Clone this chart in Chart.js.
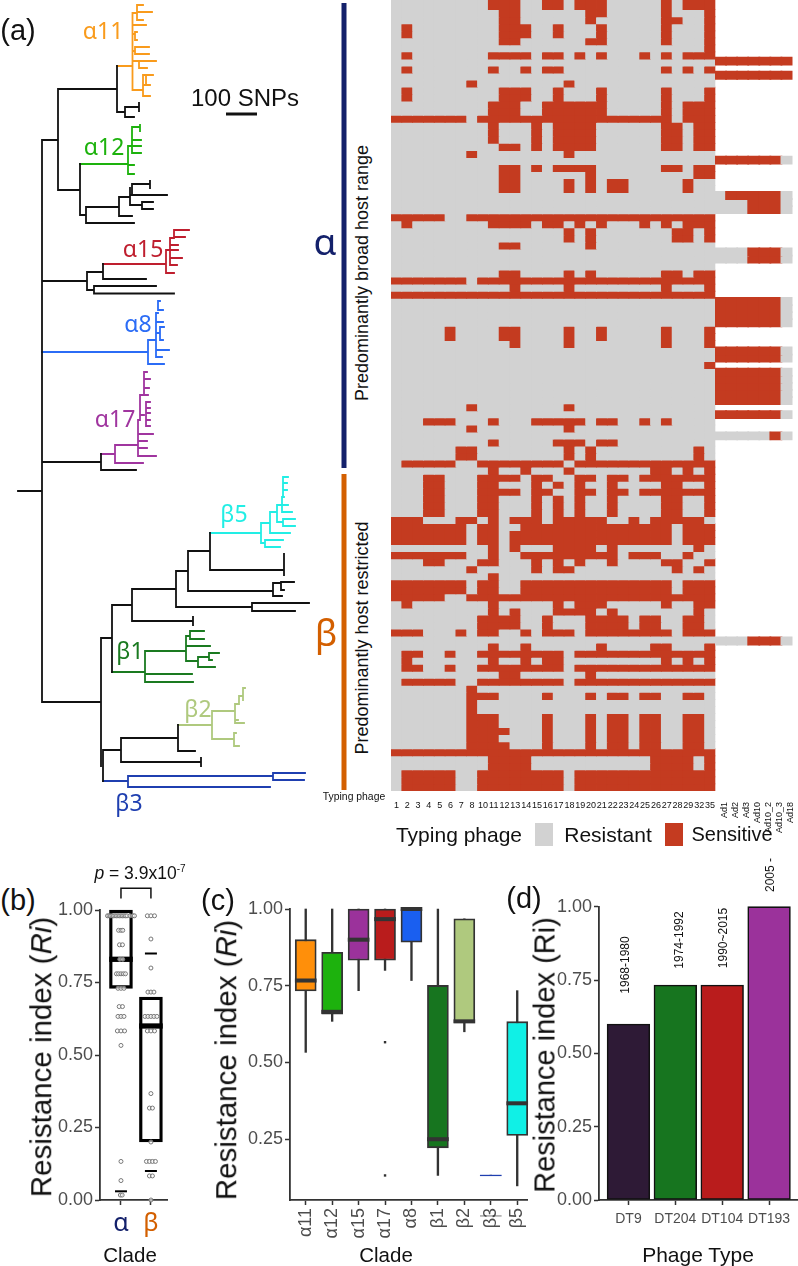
<!DOCTYPE html>
<html>
<head>
<meta charset="utf-8">
<title>Phage typing resistance</title>
<script src="https://cdn.jsdelivr.net/npm/chart.js@4/dist/chart.umd.js"></script>
<style>
html, body { margin: 0; padding: 0; background: #fff; }
#page { position: relative; width: 798px; height: 1266px; overflow: hidden; font-family: "Liberation Sans", Arial, sans-serif; color: #111; }
canvas { position: absolute; }
.t { position: absolute; transform: translate(-50%, -50%); white-space: nowrap; line-height: 1; }
.up { transform: translate(-50%, -50%) rotate(-90deg); }
.myr { font-family: "Noto Sans", sans-serif; }
.swatch { position: absolute; width: 18px; height: 23px; }
</style>
</head>
<body>
<div id="page">
  <canvas id="tree" style="left:0;top:0"></canvas>
  <canvas id="heat" style="left:391px;top:0"></canvas>
  <canvas id="adHeat" style="left:715px;top:1px"></canvas>
  <canvas id="panelB" style="left:40px;top:860px"></canvas>
  <canvas id="panelC" style="left:230px;top:860px"></canvas>
  <canvas id="panelD" style="left:540px;top:860px"></canvas>

  <div class="t" style="left:18px;top:30px;font-size:29px">(a)</div>
  <div class="t" style="left:18px;top:900px;font-size:29px">(b)</div>
  <div class="t" style="left:218px;top:900px;font-size:29px">(c)</div>
  <div class="t" style="left:524px;top:898px;font-size:29px">(d)</div>

  <div class="t" style="left:245px;top:98px;font-size:24px">100 SNPs</div>

  <div class="t myr" style="left:103px;top:30px;font-size:23px;color:#f99b1c">α11</div>
  <div class="t myr" style="left:104px;top:146px;font-size:23px;color:#1db20d">α12</div>
  <div class="t myr" style="left:143px;top:248px;font-size:23px;color:#bf1e2e">α15</div>
  <div class="t myr" style="left:138px;top:323px;font-size:23px;color:#2b6cf6">α8</div>
  <div class="t myr" style="left:115px;top:418px;font-size:23px;color:#a0359f">α17</div>
  <div class="t myr" style="left:234px;top:513px;font-size:23px;color:#22eee5">β5</div>
  <div class="t myr" style="left:130px;top:650px;font-size:23px;color:#1a7a20">β1</div>
  <div class="t myr" style="left:198px;top:708px;font-size:23px;color:#afc97e">β2</div>
  <div class="t myr" style="left:129px;top:802px;font-size:23px;color:#1f3fb0">β3</div>
  <div class="t myr" style="left:325px;top:240px;font-size:37px;color:#14216b">α</div>
  <div class="t myr" style="left:326px;top:631px;font-size:37px;color:#d35f00">β</div>

  <div class="t up" style="left:362px;top:273px;font-size:18px">Predominantly broad host range</div>
  <div class="t up" style="left:362px;top:638px;font-size:18px">Predominantly host restricted</div>

  <div class="t" style="left:354px;top:797px;font-size:10.4px">Typing phage</div>

  <div class="t" style="left:459px;top:834px;font-size:21px">Typing phage</div>
  <div class="swatch" style="left:535px;top:823px;background:#d2d2d2"></div>
  <div class="t" style="left:608px;top:834px;font-size:21px">Resistant</div>
  <div class="swatch" style="left:665px;top:823px;background:#c43b20"></div>
  <div class="t" style="left:732px;top:834px;font-size:20px">Sensitive</div>

  <div class="t" style="left:140px;top:874px;font-size:17.5px"><i>p</i> = 3.9x10<sup style="font-size:10px;line-height:0">-7</sup></div>

  <div class="t up" style="left:41px;top:1057px;font-size:29.5px">Resistance index (<i>Ri</i>)</div>
  <div class="t up" style="left:226px;top:1060px;font-size:29.5px">Resistance index (<i>Ri</i>)</div>
  <div class="t up" style="left:545px;top:1055px;font-size:29px">Resistance index (Ri)</div>

  <div class="t" style="left:130px;top:1255px;font-size:20.5px">Clade</div>
  <div class="t" style="left:386px;top:1255px;font-size:20.5px">Clade</div>
  <div class="t" style="left:698px;top:1254px;font-size:21px">Phage Type</div>

  <div class="t up" style="left:625px;top:965px;font-size:12px">1968-1980</div>
  <div class="t up" style="left:679px;top:940px;font-size:12px">1974-1992</div>
  <div class="t up" style="left:723px;top:938px;font-size:12px">1990~2015</div>
  <div class="t up" style="left:770px;top:875px;font-size:12px">2005 -</div>
</div>

<script>
// ---- heat map data ----
var phageColumns = ['1','2','3','4','5','6','7','8','10','11','12','13','14','15','16','17','18','19','20','21','22','23','24','25','26','27','28','29','32','35'];
var adColumns = ['Ad1','Ad2','Ad3','Ad10','Ad10_2','Ad10_3','Ad18'];

// one string per strain, top to bottom: which column positions are sensitive
var sensitiveRuns = [
  '10-12 15-16 18-20 26 28-30', '11-12 19-20 26 30', '11-12 19 26-27 30', '2 11-13 16 20 26 30',
  '2 11-13 16 20 26 30', '11-12 19-20 26 30', '30', '2 10-13 15-16 18 20 24 26 28-30',
  '', '2 10 13 15-16 26 28 30', '', '8 17',
  '2 11-13 16 20 26 30', '2 11-13 16 20 26 30', '10-12 15-20 26 28-30', '10-12 15-20 26 28-30',
  '1-7 9-26 28-30', '10 14 16-19 26-27 29-30', '10 14 16-19 26-27 29-30', '10 14 16-19 26-27 29-30',
  '11-12 14 16-19 26-27 29-30', '8 17', '', '11-12 14 16-19 26-27 29-30',
  '11-12 19 29-30', '11-12 17 19 21-22 28', '11-12 17 19 21-22 28', '',
  '', '', '1-5 8-30', '2 10-13 15-16 18 20 24 26 28-30',
  '17 19 27-28 30', '17 19 27-28 30', '11-12 19', '',
  '', '', '11-12 17 19 26-27 29-30', '1-7 9-30',
  '12 17 26 30', '1-30', '', '',
  '', '', '6 11-12 17 20 26 30', '6 11-12 17 20 26 30',
  '12 17 26 30', '', '', '30',
  '', '', '', '',
  '', '8 17', '', '4-6 10 14-18 20-21 24 26',
  '8 17', '', '10 16-18 20-21', '7-8 17 19 29',
  '7-8 17 19 29', '2-6 9-16 18-30', '10 13 17 25-26 28 30', '4-5 9-12 14-15 18-19 21-22 24-30',
  '4-5 9-10 14 16 18 21 26-27 30', '4-5 9-12 14-15 18-19 21-22 24-30', '4-5 9-10 14 16 18 21 26-27 30', '4-5 9-10 14 16 18 21 26-27 30',
  '4-5 9-10 14 16 18 21 26-27 30', '1-3 7-8 10 12-14 16-20 23 25-29', '1-7 9-10 13-26 28-30', '1-7 9-10 12-26 28-30',
  '1-7 9-10 12-26 28-30', '10 12 16-19 21 29', '1-7 10 13-21 23-25 28', '4-5 9-10 14 16 18 21 26-27 30',
  '8 14 16-17 27 29', '10', '1-7 9-10 13-26 28-30', '1-7 9-10 13-26 28-30',
  '1-5 8-30', '2 10 16 18-20 26 29-30', '10 12 16-19 21 29', '9-12 15 19-22 24-25 28-29',
  '9-12 15 19-22 24-25 28-29', '1-3 7 9-10 13 15-17 19-26 28-30', '', '10 13 20 25-26 30',
  '2-3 6 9-16 18-30', '2 10 13 15-16 26 28 30', '2-3 6 9-16 18-30', '11-12 19',
  '2-6 9-16 18-30', '8', '8-10 15 19 21-22 24-25 28-29', '8',
  '8', '8-10 15 19 21-22 24-25 28-29', '8-10 15 19 21-22 24-25 28-29', '8-11 15 19 21-22 24-25 28-29',
  '8-10 15 19 21-22 24-25 28-29', '8-11 15 19 21-22 24-25 28-29', '1-30', '10-13 25-28 30',
  '10-13 25-28 30', '2-6 9-16 18-30', '2-6 9-16 18-30', '2-6 9-16 18-30'
];

// strains that were also typed with the Ad phages
var adRows = [8, 10, 22, 27, 28, 29, 35, 36, 42, 43, 44, 45, 49, 50, 52, 53, 54, 55, 56, 58, 61, 90];
var adSensitive = ['1-7', '1-7', '1-6', '2-6', '4-6', '4-6', '4-6', '4-6', '1-6', '1-6', '1-6', '1-6', '1-6', '1-6', '1-6', '1-6', '1-6', '1-6', '1-6', '1-6', '6', '4-6'];

// ---- tree data: [bar position, [tip row, branch end], ...] ----
var treeBlack = [
  [18, [491, 42]],
  [42, [140, 58], [281, 87], [462, 101], [702, 101]],
  [58, [89, 117], [190, 80]],
  [117, [66, 117], [112, 125]],
  [125, [107, 139], [117, 134]],
  [139, [103, 139], [111, 139]],
  [80, [164, 80], [215, 86]],
  [86, [207, 119], [223, 134]],
  [119, [197, 130], [216, 132]],
  [130, [188, 130], [195, 167], [205, 142]],
  [132, [184, 150], [195, 132]],
  [150, [181, 150], [188, 150]],
  [142, [202, 153], [209, 153]],
  [87, [272, 103], [290, 94]],
  [103, [264, 103], [279, 146]],
  [94, [286, 156], [293.5, 174]],
  [101, [454, 101], [470, 136]],
  [101, [638, 112], [702, 101], [766, 101]],
  [112, [605, 132], [672, 112]],
  [132, [589, 176], [621, 193]],
  [193, [617, 193], [625, 193]],
  [176, [571, 188], [607, 252]],
  [252, [603, 309], [611, 295]],
  [188, [551, 210], [591, 273]],
  [273, [583, 281], [596, 282]],
  [281, [582, 294], [590, 284]],
  [210, [533, 210], [570, 284]],
  [284, [554, 284], [575, 284]],
  [103, [750, 121], [781, 103]],
  [121, [738, 178], [762, 201]],
  [201, [758, 201], [766, 201]],
  [178, [725, 178], [751, 195]]
];
var treeA11 = [
  [117, [66, 132.5]],
  [132.5, [13, 137], [25, 146], [34, 135], [51, 135], [61, 139], [90, 143]],
  [137, [5, 143], [12, 152], [20, 143]],
  [135, [32, 137], [40, 137]],
  [135, [47, 149], [54, 149]],
  [139, [61, 156], [68, 147]],
  [143, [75, 146], [85, 150], [96, 150]],
  [146, [75, 153], [85, 146]]
];
var treeA12 = [
  [80, [164, 128]],
  [128, [146, 132], [165, 134], [174, 134]],
  [132, [127, 140], [140, 141], [146, 141], [153, 141]],
  [140, [125, 140], [131, 140]]
];
var treeA15 = [
  [103, [264, 166]],
  [166, [250, 170], [273, 174]],
  [170, [238, 174], [245, 178], [250, 178], [258, 182], [265, 177]],
  [174, [230, 189], [237, 185]]
];
var treeA8 = [
  [42, [352, 148]],
  [148, [340, 156], [364, 164]],
  [156, [313, 158], [322, 163], [333, 160], [350, 169], [357, 162]],
  [158, [301, 160], [310, 163]],
  [160, [327, 164], [340, 163]]
];
var treeA17 = [
  [101, [454, 115]],
  [115, [445, 138], [463, 143]],
  [138, [420, 140], [434, 153], [441, 147], [448, 147], [456, 156]],
  [140, [395, 144], [415, 144], [420, 140]],
  [144, [372, 147], [379, 150], [388, 149], [395, 148]],
  [146, [402, 150], [408, 150], [413, 150], [420, 150], [426, 150]]
];
var treeB5 = [
  [210, [533, 261]],
  [261, [523, 270], [543, 265]],
  [265, [540, 283], [547, 280]],
  [270, [512, 277], [533, 290]],
  [277, [505, 282], [522, 283]],
  [282, [497, 284], [505, 288], [512, 292]],
  [283, [519, 295], [526, 295]],
  [283, [477, 288], [483, 287], [490, 287], [497, 284]]
];
var treeB1 = [
  [112, [672, 145]],
  [145, [651, 186], [674, 192], [682, 193]],
  [186, [636, 190], [646, 210], [661, 198]],
  [190, [631, 204], [639, 204]],
  [198, [657, 209], [667, 215]],
  [209, [653, 219], [660, 212]]
];
var treeB2 = [
  [178, [725, 212]],
  [212, [711, 235], [739, 234]],
  [235, [704, 239], [720, 238], [723, 244]],
  [239, [696, 243], [704, 239]],
  [243, [688, 245], [700, 243]],
  [234, [733, 236], [746, 239]]
];
var treeB3 = [
  [103, [781, 128]],
  [128, [776, 273], [787, 270]],
  [273, [773, 305], [780, 304]]
];

// ---- panel b ----
var alphaRi = [.98,.98,.98,.98,.98,.98,.98,.98,.98,.98,.98,.98,.98,.98,.98,.98,.98,.93,.93,.93,.88,.88,.83,.83,.78,.78,.78,.78,.78,.73,.73,.73,.667,.667,.633,.633,.633,.583,.583,.583,.533,.133,.067,.017,.017];
var alphaJitter = [-.45,-.4,-.35,-.3,-.25,-.2,-.15,-.1,-.05,0,.05,.1,.15,.2,.3,.4,.45,-.08,0,.06,-.05,.05,-.04,.06,-.15,-.08,0,.08,.15,-.1,0,.1,-.06,.05,-.1,0,.1,-.12,0,.12,0,0,0,-.02,.04];
var betaRi = [.98,.98,.98,.9,.8,.717,.717,.717,.633,.633,.633,.633,.633,.583,.583,.583,.367,.317,.317,.2,.133,.133,.133,.133,.083,.083,0];
var betaJitter = [-.12,0,.12,0,0,-.1,0,.1,-.2,-.1,0,.1,.2,-.12,0,.12,0,-.05,.05,0,-.15,-.05,.05,.15,-.05,.05,0];
var cladeMedianB = [.83, .60];
var boxLowB = [.73, .20];
var boxHighB = [1, .70];
var dashX = [1, 2, 2];
var dashRi = [.03, .85, .10];

// ---- panel c ----
var cladeNames = ['α11','α12','α15','α17','α8','β1','β2','β3','β5'];
var cladeColors = ['#ff8f0a','#1db20d','#9b329b','#b91c1c','#1a5ff0','#17751f','#afc97e','#1f3fb0','#10f0e6'];
var whiskerLow = [.533,.634,.734,.80,.767,.132,.60,.132,.098];
var boxLow = [.733,.657,.833,.833,.892,.222,.63,.131,.262];
var cladeMedian = [.767,.665,.90,.967,1,.25,.634,.132,.367];
var boxHigh = [.90,.859,1,1,1,.751,.968,.133,.633];
var whiskerHigh = [1,1,1,1,1,1,.968,.133,.734];
var outlierClade = [4, 4];
var outlierRi = [.566, .132];

// ---- panel d ----
var phageTypes = ['DT9','DT204','DT104','DT193'];
var phageRi = [.60,.733,.733,1];
var phageColors = ['#2e1a36','#17751f','#b91c1c','#9b329b'];

var red = '#c43b20', grey = '#d2d2d2', dark = '#333333', tickGrey = '#4d4d4d';

function isSensitive(runs, pos) {
  return runs.split(' ').some(function(r) {
    if (!r) return false;
    var p = r.split('-');
    return pos >= +p[0] && pos <= +(p[1] || p[0]);
  });
}

function sizeCanvas(id, w, h) {
  var c = document.getElementById(id);
  c.style.width = w + 'px';
  c.style.height = h + 'px';
  c.width = w;
  c.height = h;
  return c;
}

var baseOptions = {
  responsive: false,
  animation: false,
  events: [],
  plugins: { legend: { display: false }, tooltip: { enabled: false } }
};

function opts(extra, padding) {
  return Object.assign({ layout: { autoPadding: false, padding: padding || 0 } }, baseOptions, extra);
}

// tree
function treeDataset(brackets, color, width) {
  var pts = [];
  brackets.forEach(function(b) {
    var x0 = b[0];
    var rows = b.slice(1).map(function(c) { return c[0]; });
    pts.push({x: x0, y: Math.min.apply(null, rows)}, {x: x0, y: Math.max.apply(null, rows)}, {x: x0, y: null});
    b.slice(1).forEach(function(c) {
      pts.push({x: x0, y: c[0]}, {x: c[1], y: c[0]}, {x: c[1], y: null});
    });
  });
  return { data: pts, showLine: true, borderColor: color, borderWidth: width || 1.8, pointRadius: 0, borderCapStyle: 'square', spanGaps: false };
}

sizeCanvas('tree', 350, 810);
new Chart('tree', {
  type: 'scatter',
  data: { datasets: [
    treeDataset(treeBlack, '#111'),
    treeDataset(treeA11, '#f99b1c'),
    treeDataset(treeA12, '#1db20d'),
    treeDataset(treeA15, '#bf1e2e'),
    treeDataset(treeA8, '#2b6cf6'),
    treeDataset(treeA17, '#a0359f'),
    treeDataset(treeB5, '#22eee5'),
    treeDataset(treeB1, '#1a7a20'),
    treeDataset(treeB2, '#afc97e'),
    treeDataset(treeB3, '#1f3fb0'),
    { data: [{x: 226, y: 114}, {x: 257, y: 114}], showLine: true, borderColor: '#111', borderWidth: 3, pointRadius: 0 },
    { data: [{x: 344, y: 3}, {x: 344, y: 468}], showLine: true, borderColor: '#14216b', borderWidth: 5, pointRadius: 0 },
    { data: [{x: 344, y: 474}, {x: 344, y: 790}], showLine: true, borderColor: '#d35f00', borderWidth: 5, pointRadius: 0 }
  ] },
  options: opts({
    scales: {
      x: { type: 'linear', display: false, min: 0, max: 350 },
      y: { type: 'linear', display: false, min: 0, max: 810, reverse: true }
    }
  })
});

// heat maps
function hideY(min, max) {
  return { type: 'linear', display: false, min: min, max: max, reverse: true };
}

sizeCanvas('heat', 325, 810);
new Chart('heat', {
  type: 'bar',
  data: {
    labels: phageColumns,
    datasets: sensitiveRuns.map(function(runs, k) {
      return {
        data: phageColumns.map(function() { return [k === 0 ? -1 : k, k + 1]; }),
        backgroundColor: phageColumns.map(function(c, i) { return isSensitive(runs, i + 1) ? red : grey; })
      };
    })
  },
  options: opts({
    datasets: { bar: { grouped: false, barPercentage: 1, categoryPercentage: 1, borderWidth: 0, inflateAmount: 0.4 } },
    scales: {
      x: {
        offset: true,
        border: { display: false },
        grid: { display: false },
        ticks: { autoSkip: false, maxRotation: 0, padding: 1, color: '#111', font: { size: 9, family: 'Liberation Sans' } },
        afterFit: function(s) { s.height = 19; }
      },
      y: hideY(-0.38, 112)
    }
  })
});

sizeCanvas('adHeat', 83, 832);
new Chart('adHeat', {
  type: 'bar',
  data: {
    labels: adColumns,
    datasets: adRows.map(function(k, r) {
      return {
        data: adColumns.map(function() { return [k, k + 1]; }),
        backgroundColor: adColumns.map(function(c, i) { return isSensitive(adSensitive[r], i + 1) ? red : grey; })
      };
    })
  },
  options: opts({
    datasets: { bar: { grouped: false, barPercentage: 1, categoryPercentage: 1, borderWidth: 0, inflateAmount: 0.9 } },
    scales: {
      x: {
        offset: true,
        border: { display: false },
        grid: { display: false },
        ticks: { autoSkip: false, minRotation: 90, maxRotation: 90, padding: 1, labelOffset: 4, color: '#111', font: { size: 9, family: 'Liberation Sans' } },
        afterFit: function(s) { s.height = 40; s.paddingLeft = 0; s.paddingRight = 0; }
      },
      y: hideY(0, 112)
    }
  }, { right: 5.5 })
});

// shared bits for the three small panels
function valueAxis(min, max, width) {
  return {
    type: 'linear',
    min: min,
    max: max,
    border: { display: true, color: dark, width: 1.8 },
    grid: { drawOnChartArea: false, drawTicks: true, tickLength: 5, tickColor: dark, tickWidth: 1.5 },
    ticks: { padding: 2, color: tickGrey, font: { size: 18, family: 'Liberation Sans' }, callback: function(v) { return v.toFixed(2); } },
    afterBuildTicks: function(s) { s.ticks = [0, .25, .5, .75, 1].filter(function(v) { return v >= min; }).map(function(v) { return {value: v}; }); },
    afterFit: function(s) { s.width = width; }
  };
}

function cladeAxis(min, max, names, extraTicks) {
  return {
    type: 'linear',
    min: min,
    max: max,
    offset: false,
    border: { display: true, color: dark, width: 1.8 },
    grid: { offset: false, drawOnChartArea: false, drawTicks: true, tickLength: 5, tickColor: dark, tickWidth: 1.5 },
    ticks: Object.assign({ callback: function(v) { return names[v - 1]; } }, extraTicks),
    afterBuildTicks: function(s) { s.ticks = names.map(function(n, i) { return {value: i + 1}; }); },
    afterFit: function(s) { s.height = 60; s.paddingLeft = 0; s.paddingRight = 0; }
  };
}

function floating(lows, highs, extra) {
  return Object.assign({
    type: 'bar',
    grouped: false,
    borderSkipped: false,
    clip: false,
    data: lows.map(function(lo, i) { return {x: i + 1, y: [lo, highs[i]]}; })
  }, extra);
}

// panel b
function swarm(pos, values, jitter) {
  return values.map(function(v, i) { return {x: pos + jitter[i], y: v}; });
}

sizeCanvas('panelB', 128, 400);
new Chart('panelB', {
  type: 'bar',
  data: { datasets: [
    { type: 'scatter', data: swarm(1, alphaRi, alphaJitter).concat(swarm(2, betaRi, betaJitter)), clip: false,
      pointRadius: 2, pointBackgroundColor: 'rgba(255,255,255,0.6)', pointBorderColor: '#777', pointBorderWidth: 1 },
    floating(cladeMedianB.map(function(m) { return m - .008; }), cladeMedianB.map(function(m) { return m + .008; }),
      { backgroundColor: '#000', barThickness: 23, borderWidth: 0 }),
    { type: 'scatter', data: dashX.map(function(x, i) { return {x: x, y: dashRi[i]}; }),
      pointStyle: 'line', pointRadius: 6, pointBorderColor: '#000', pointBorderWidth: 2, clip: false },
    floating(boxLowB, boxHighB, { backgroundColor: 'rgba(255,255,255,0)', borderColor: '#000', borderWidth: 2.6, barThickness: 23 }),
    { type: 'scatter', data: [{x: 1, y: 1.04}, {x: 1, y: 1.075}, {x: 2, y: 1.075}, {x: 2, y: 1.04}], showLine: true,
      borderColor: '#111', borderWidth: 1.5, pointRadius: 0, clip: false }
  ] },
  options: opts({
    scales: {
      x: cladeAxis(0.3, 2.57, ['α', 'β'], {
        padding: 4,
        font: { size: 25, family: 'Noto Sans' },
        color: function(c) { return c.index === 0 ? '#14216b' : '#d35f00'; }
      }),
      y: valueAxis(0, 1, 60)
    }
  }, { top: 50 })
});

// panel c
var medianLow = cladeMedian.map(function(m) { return m - .0055; });
var medianHigh = cladeMedian.map(function(m) { return m + .0055; });
medianLow[7] = medianHigh[7] = null;

sizeCanvas('panelC', 300, 400);
new Chart('panelC', {
  type: 'bar',
  data: { datasets: [
    { type: 'scatter', data: outlierClade.map(function(x, i) { return {x: x, y: outlierRi[i]}; }),
      pointStyle: 'rect', pointRadius: 1.7, pointBackgroundColor: dark, pointBorderWidth: 0 },
    floating(medianLow, medianHigh, { backgroundColor: dark, barThickness: 21, borderWidth: 0 }),
    floating(boxLow, boxHigh, {
      backgroundColor: cladeColors,
      borderColor: cladeColors.map(function(c, i) { return i === 7 ? c : dark; }),
      borderWidth: cladeColors.map(function(c, i) { return i === 7 ? 0 : 1.8; }),
      barThickness: 21
    }),
    floating(whiskerLow, whiskerHigh, { backgroundColor: dark, barThickness: 1.7, borderWidth: 0 })
  ] },
  options: opts({
    scales: {
      x: cladeAxis(0.405, 9.37, cladeNames, {
        padding: 3,
        minRotation: 90,
        maxRotation: 90,
        color: tickGrey,
        font: { size: 18, family: 'Liberation Sans' }
      }),
      y: valueAxis(0.052, 1, 60)
    }
  }, { top: 49, right: 3 })
});

// panel d
sizeCanvas('panelD', 258, 400);
new Chart('panelD', {
  type: 'bar',
  data: {
    datasets: [{
      data: phageRi.map(function(v, i) { return {x: i + 1, y: v}; }),
      backgroundColor: phageColors,
      borderColor: '#111',
      borderWidth: 1.6,
      borderSkipped: false,
      barThickness: 42.7,
      clip: false
    }]
  },
  options: opts({
    scales: {
      x: cladeAxis(0.372, 4.617, phageTypes, {
        padding: 6,
        color: tickGrey,
        maxRotation: 0,
        font: { size: 14, family: 'Liberation Sans' }
      }),
      y: valueAxis(0, 1, 59)
    }
  }, { top: 46.7 })
});
</script>
</body>
</html>
